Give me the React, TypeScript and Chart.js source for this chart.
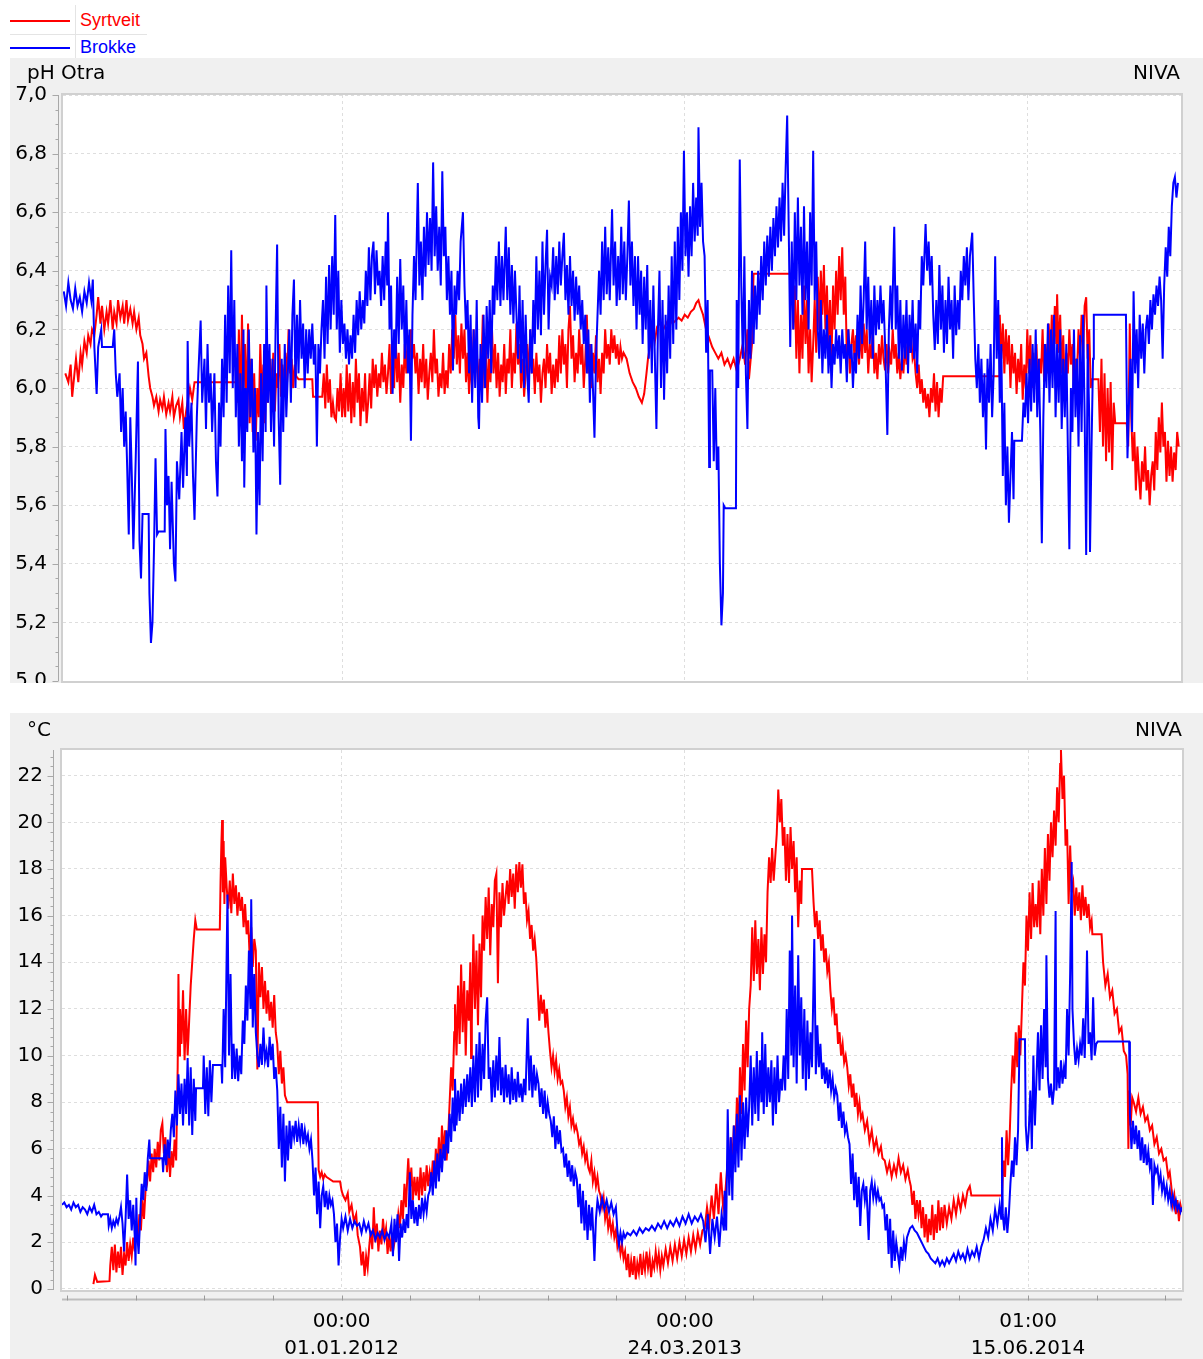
import React, { useEffect, useRef } from 'react';
import { Chart, registerables } from 'chart.js';

Chart.register(...registerables);

type Pair = [number, number];

// ---------------- data (x = days relative to 01.01.2012) ----------------
const seriesNames = ['Syrtveit', 'Brokke'];
const seriesColors = ['#ff0000', '#0000ff'];
const xTickDays = [0, 448, 896.04];
const xTickTimes = ['00:00', '00:00', '01:00'];
const xTickDates = ['01.01.2012', '24.03.2013', '15.06.2014'];
const phTicks = [5.0, 5.2, 5.4, 5.6, 5.8, 6.0, 6.2, 6.4, 6.6, 6.8, 7.0];
const tempTicks = [0, 2, 4, 6, 8, 10, 12, 14, 16, 18, 20, 22];
const phTitle = 'pH Otra';
const tempTitle = '°C';
const sourceLabel = 'NIVA';

const phSyrtveit: Pair[] = [
[-362,6.05],[-358,6.02],[-355,6.08],[-353,5.97],[-350,6.05],[-348,6.1],[-345,6.02],[-342,6.12],[-340,6.08],[-337,6.16],[-334,6.12],[-332,6.18],[-329,6.15],[-327,6.2],[-324,6.18],[-321,6.25],[-319,6.31],[-316,6.22],[-314,6.28],[-311,6.2],[-308,6.26],[-306,6.22],[-303,6.3],[-300,6.2],[-298,6.26],[-295,6.22],[-293,6.3],[-290,6.24],[-287,6.28],[-285,6.22],[-282,6.3],[-280,6.23],[-277,6.27],[-274,6.22],[-272,6.26],[-269,6.2],[-266,6.24],[-264,6.18],[-261,6.15],[-259,6.1],[-256,6.12],[-253,6.04],[-251,6.0],[-248,5.97],[-246,5.94],[-243,5.97],[-240,5.92],[-238,5.96],[-235,5.93],[-233,5.97],[-230,5.91],[-227,5.95],[-225,5.92],[-222,5.97],[-220,5.9],[-217,5.94],[-214,5.96],[-212,5.9],[-209,5.95],[-207,5.86],[-204,5.92],[-201,5.97],[-199,6.0],[-196,5.96],[-193,6.02],[-140,6.02],
[-139,6.1],[-137,5.95],[-135,6.2],[-133,5.9],[-131,6.25],[-129,6.0],[-127,6.15],[-125,5.92],[-123,6.22],[-121,5.88],[-119,6.1],[-117,5.85],[-115,6.05],[-113,5.82],[-111,6.0],[-109,5.9],[-107,6.15],[-105,5.95],[-103,6.08],[-101,5.88],[-99,6.02],[-97,5.95],[-94,6.1],[-92,5.98],[-90,6.12],[-88,5.92],[-86,6.05],[-84,6.0],[-82,6.15],[-80,5.97],[-78,6.08],[-76,6.0],[-74,6.12],[-72,6.02],[-70,6.2],[-68,6.05],[-66,6.1],[-64,6.0],[-62,6.08],[-60,6.04],[-57,6.03],[-39,6.03],[-38,5.97],[-26,5.97],
[-24,6.05],[-22,5.93],[-20,6.08],[-18,5.95],[-16,6.03],[-14,5.9],[-12,5.95],[-10,5.9],[-8,5.89],[-6,6.0],[-4,5.92],[-2,6.05],[0,5.9],[2,6.0],[4,5.9],[6,6.08],[8,5.92],[10,6.05],[12,5.88],[14,6.02],[16,5.9],[18,6.1],[20,5.95],[22,6.05],[24,5.87],[26,6.0],[28,5.92],[30,6.05],[32,5.88],[34,5.95],[36,6.05],[38,5.93],[40,6.1],[42,6.0],[44,6.08],[46,5.97],[48,6.05],[50,6.0],[52,6.12],[54,6.02],[56,6.08],[58,5.98],[60,6.05],
[62,6.15],[64,5.98],[66,6.1],[68,6.0],[70,6.18],[72,6.02],[74,6.12],[76,5.95],[78,6.08],[80,6.0],[82,6.15],[84,6.05],[86,6.18],[88,6.08],[90,6.2],[92,6.1],[94,6.15],[96,6.05],[98,6.12],[100,5.98],[102,6.1],[104,6.02],[106,6.15],[108,6.0],[110,6.1],[112,5.96],[114,6.05],[116,6.12],[118,6.02],[120,6.2],[122,6.05],[124,6.1],[126,5.97],[128,6.05],[130,6.0],[132,6.12],[134,5.98],[136,6.06],[138,6.0],[140,6.15],[142,6.05],[144,6.2],[146,6.1],[148,6.25],[150,6.08],[152,6.18],[154,6.05],[156,6.22],[158,6.1],[160,6.2],[162,6.02],[164,6.12],[166,5.98],
[168,6.1],[170,6.0],[172,6.2],[174,6.05],[176,6.15],[178,5.98],[180,6.1],[182,6.05],[184,6.25],[186,6.0],[188,6.15],[190,5.95],[192,6.1],[194,6.02],[196,6.2],[198,6.05],[200,6.15],[202,6.0],[204,6.12],[206,5.97],[208,6.08],[210,6.02],[212,6.15],[214,5.98],[216,6.1],[218,6.05],[220,6.2],[222,6.0],[224,6.12],[226,6.05],[228,6.22],[230,6.08],[232,6.15],[234,6.0],[236,6.1],[238,5.97],[240,6.05],[242,6.15],[244,6.02],[246,6.2],[248,6.05],[250,6.1],[252,5.98],[254,6.12],[256,6.02],[258,6.08],[260,5.95],[262,6.05],[264,6.1],[266,6.0],[268,6.15],[270,6.05],[272,6.12],[274,5.98],[276,6.08],[278,6.0],[280,6.1],[282,6.02],[284,6.18],
[286,6.05],[288,6.2],[290,6.08],[292,6.15],[294,6.0],[296,6.2],[298,6.28],[300,6.1],[302,6.18],[304,6.02],[306,6.12],[308,6.05],[310,6.2],[312,6.08],[314,6.15],[316,6.0],[318,6.1],[320,6.25],[322,6.05],[324,6.15],[326,6.0],[328,6.12],[330,6.05],[332,6.18],[334,6.02],[336,6.1],[338,5.98],[340,6.12],[342,6.05],[344,6.2],[346,6.1],[348,6.15],[350,6.08],[352,6.2],[354,6.12],[356,6.18],[358,6.1],[360,6.15],[362,6.08],[364,6.14],[366,6.1],
[368,6.12],[372,6.1],[376,6.05],[380,6.02],[384,6.0],[388,5.97],[392,5.95],[395,5.98],[398,6.05],[400,6.1],[403,6.15],[406,6.2],[409,6.16],[412,6.21],[416,6.22],[420,6.2],[424,6.22],[428,6.24],[432,6.22],[436,6.23],[440,6.24],[444,6.23],[448,6.25],[452,6.24],[456,6.26],[460,6.27],[463,6.29],[466,6.3],[468,6.28],[472,6.25],[476,6.2],[480,6.17],[484,6.14],[488,6.12],[492,6.1],[496,6.12],[500,6.08],[504,6.1],[508,6.07],[512,6.1],[516,6.06],[520,6.1],[524,6.15],[527,6.08],[530,6.2],[532,6.03],[536,6.15],[538,6.39],[588,6.39],
[590,6.2],[592,6.35],[594,6.1],[596,6.3],[598,6.05],[600,6.25],[602,6.1],[604,6.35],[606,6.15],[608,6.3],[610,6.05],[612,6.2],[614,6.02],[616,6.15],[618,6.3],[620,6.12],[622,6.38],[624,6.2],[626,6.4],[628,6.25],[630,6.42],[632,6.2],[634,6.35],[636,6.15],[638,6.3],[640,6.1],[642,6.35],[644,6.2],[646,6.4],[648,6.25],[650,6.45],[652,6.3],[654,6.48],[656,6.25],[658,6.38],[660,6.1],[662,6.2],[664,6.05],[666,6.15],[668,6.2],[670,6.1],[672,6.18],
[676,6.08],[678,6.2],[680,6.1],[682,6.22],[684,6.12],[686,6.2],[688,6.05],[690,6.15],[692,6.1],[694,6.2],[696,6.05],[698,6.12],[700,6.03],[702,6.15],[704,6.08],[706,6.18],[708,6.1],[710,6.06],[712,6.15],[714,6.05],[716,6.12],[718,6.08],[720,6.2],[722,6.1],[724,6.15],[726,6.05],[728,6.12],[730,6.03],[732,6.1],[734,6.05],[736,6.15],[738,6.08],[740,6.2],[742,6.12],[744,6.18],[746,6.1],[748,6.12],[750,6.05],
[752,6.0],[754,6.08],[756,5.98],[758,6.03],[760,5.95],[762,6.0],[764,5.93],[766,5.98],[768,5.9],[770,6.0],[772,5.95],[774,6.05],[776,5.92],[778,6.02],[780,5.9],[782,6.0],[784,5.95],[786,6.04],[787,6.04],[859,6.04],
[860,6.25],[862,6.1],[864,6.22],[866,6.05],[868,6.2],[870,6.08],[872,6.18],[874,6.0],[876,6.15],[878,6.05],[880,6.12],[882,5.98],[884,6.1],[886,6.02],[888,6.15],[890,5.96],[892,6.08],[894,6.0],[896,6.2],[898,6.05],[900,6.18],[902,6.0],[904,6.12],[906,6.02],[908,6.15],[910,5.97],[912,6.1],[914,6.05],[916,6.2],[918,6.02],[920,6.15],[922,6.05],[924,6.22],[926,6.08],[928,6.25],[930,6.1],[932,6.28],[934,6.15],[935,6.32],[937,6.12],[939,6.25],[941,6.05],[943,6.18],[945,6.0],[947,6.12],[949,6.05],[951,6.2],[953,6.08],[955,6.15],[957,5.98],[959,6.1],[961,6.05],[963,6.2],[965,6.1],[967,6.25],[969,6.12],[971,6.28],[973,6.31],[975,6.1],[977,6.2],[979,6.0],[980,6.03],[989,6.03],
[991,5.85],[993,6.1],[995,5.8],[997,6.05],[999,5.75],[1001,6.0],[1003,5.78],[1005,6.02],[1007,5.72],[1009,5.95],[1011,5.88],[1026,5.88],[1028,5.8],[1030,6.22],[1032,5.9],[1034,5.75],[1036,5.85],[1038,5.65],[1040,5.8],[1042,5.7],[1044,5.62],[1046,5.75],[1048,5.68],[1050,5.8],[1052,5.65],[1054,5.72],[1056,5.6],[1058,5.7],[1060,5.75],[1062,5.65],[1064,5.85],[1066,5.72],[1068,5.9],[1070,5.78],[1072,5.95],[1074,5.8],[1076,5.85],[1078,5.68],[1080,5.82],[1082,5.7],[1084,5.8],[1086,5.68],[1088,5.78],[1090,5.72],[1092,5.85],[1094,5.8],
];

const phBrokke: Pair[] = [
[-364,6.33],[-361,6.28],[-358,6.36],[-355,6.30],[-352,6.27],[-349,6.34],[-346,6.28],[-343,6.31],[-340,6.26],[-337,6.33],[-334,6.29],[-331,6.36],[-328,6.30],[-326,6.37],[-325,6.25],[-324,6.14],[-321,5.98],[-319,6.14],[-315,6.2],[-314,6.14],[-300,6.14],[-298,6.2],[-296,6.05],[-294,5.97],[-291,6.05],[-289,5.85],[-287,6.0],[-285,5.8],[-283,5.92],[-281,5.72],[-279,5.5],[-277,5.9],[-275,5.7],[-273,5.45],[-270,5.75],[-267,6.09],[-265,5.48],[-263,5.35],[-261,5.57],[-253,5.57],[-252,5.3],[-250,5.13],[-248,5.2],[-246,5.45],[-244,5.76],[-242,5.5],[-240,5.51],[-232,5.51],[-231,5.86],[-229,5.6],[-227,5.7],[-225,5.45],[-223,5.68],[-220,5.4],[-218,5.34],
[-216,5.75],[-213,5.62],[-210,5.85],[-208,5.66],[-205,5.9],[-203,5.7],[-202,6.16],[-200,5.8],[-197,5.95],[-195,5.7],[-193,5.55],[-190,5.9],[-188,6.05],[-185,6.23],[-183,5.95],[-180,6.1],[-178,5.86],[-176,6.15],[-174,5.95],[-172,6.05],[-170,5.85],[-167,6.05],[-165,5.75],[-163,5.63],[-161,5.95],[-159,5.8],[-157,6.1],[-155,5.9],[-153,6.25],[-151,5.95],[-149,6.35],[-147,6.05],[-145,6.47],[-143,6.0],[-141,6.3],[-139,5.9],[-137,6.15],[-135,5.8],[-133,6.05],[-131,5.75],[-129,6.2],[-128,5.66],[-126,6.0],[-124,5.85],[-122,6.2],[-120,5.9],[-118,6.1],[-116,5.78],[-114,6.0],
[-112,5.5],[-110,5.85],[-108,5.6],[-106,6.05],[-104,5.75],[-102,6.15],[-100,5.85],[-99,6.35],[-97,5.95],[-95,6.15],[-93,5.85],[-91,6.1],[-89,5.8],[-87,6.2],[-85,6.49],[-83,5.9],[-81,5.67],[-79,6.1],[-77,5.85],[-75,6.15],[-73,5.9],[-71,6.05],[-69,6.2],[-67,5.95],[-65,6.25],[-63,6.37],[-61,6.0],[-59,6.25],[-57,6.05],[-55,6.3],[-53,6.1],[-51,6.22],[-49,6.0],[-47,6.2],[-45,6.05],[-43,6.2],[-41,6.1],[-39,6.22],[-37,6.08],[-35,6.15],[-33,5.8],[-31,6.15],[-29,6.05],[-27,6.2],[-25,6.3],[-23,6.1],[-21,6.38],[-19,6.15],[-17,6.42],[-15,6.2],[-13,6.45],[-11,6.25],[-9,6.59],[-7,6.2],[-5,6.4],[-3,6.12],[-1,6.3],
[1,6.15],[3,6.22],[5,6.1],[7,6.2],[9,6.08],[11,6.18],[13,6.1],[15,6.25],[17,6.12],[19,6.3],[21,6.18],[23,6.33],[25,6.2],[27,6.3],[29,6.22],[31,6.4],[33,6.28],[35,6.48],[37,6.3],[39,6.45],[41,6.5],[43,6.32],[45,6.47],[47,6.35],[49,6.4],[51,6.28],[53,6.45],[55,6.3],[57,6.5],[59,6.35],[60,6.6],[62,6.2],[64,6.35],[66,5.98],[68,6.2],[70,6.1],[72,6.38],[74,6.15],[76,6.44],[78,6.2],[80,6.35],[82,6.1],[84,6.3],[86,6.05],[88,6.2],[90,5.82],
[92,6.25],[94,6.45],[96,6.3],[99,6.7],[101,6.35],[103,6.5],[105,6.3],[107,6.55],[109,6.38],[111,6.6],[113,6.42],[115,6.58],[117,6.4],[119,6.77],[121,6.45],[123,6.62],[125,6.4],[127,6.55],[129,6.35],[131,6.74],[133,6.45],[135,6.55],[137,6.3],[139,6.45],[141,6.25],[143,6.4],[145,6.06],[147,6.35],[149,6.25],[151,6.4],[153,6.3],[155,6.5],[158,6.6],[160,6.35],
[162,6.2],[164,6.3],[166,6.05],[168,6.25],[170,5.95],[172,6.2],[174,6.0],[176,6.3],[178,5.9],[179,5.86],[181,6.15],[183,5.95],[185,6.25],[187,6.0],[189,6.28],[191,6.1],[193,6.3],[195,6.05],[197,6.35],[199,6.25],[201,6.45],[203,6.3],[205,6.5],[207,6.28],[209,6.45],[211,6.3],[214,6.55],[216,6.3],[218,6.48],[220,6.25],[222,6.42],[224,6.22],[226,6.4],[228,6.25],
[230,6.1],[232,6.35],[234,6.05],[236,6.3],[238,6.0],[240,6.25],[242,6.05],[244,5.95],[246,6.2],[248,6.05],[250,6.3],[252,6.15],[254,6.45],[256,6.2],[258,6.4],[260,6.18],[262,6.5],[264,6.25],[266,6.42],[268,6.54],[270,6.2],[272,6.38],[274,6.35],[276,6.48],[278,6.3],[280,6.45],[282,6.32],[284,6.5],[286,6.35],[288,6.45],[290,6.53],[292,6.3],[294,6.42],[296,6.25],[298,6.45],[300,6.28],[302,6.4],[304,6.23],[306,6.38],[308,6.25],[310,6.35],[312,6.2],[314,6.3],[316,6.15],
[318,6.25],[320,6.05],[322,6.2],[324,5.95],[326,6.15],[328,6.0],[330,5.83],[332,6.1],[334,6.25],[336,6.4],[338,6.25],[340,6.5],[342,6.3],[344,6.55],[346,6.32],[348,6.48],[350,6.3],[353,6.61],[355,6.35],[357,6.5],[359,6.28],[361,6.45],[363,6.3],[365,6.55],[367,6.32],[369,6.5],[371,6.3],[373,6.45],[375,6.64],[377,6.35],[379,6.5],[381,6.28],[383,6.45],
[385,6.2],[387,6.45],[389,6.25],[391,6.4],[393,6.15],[395,6.38],[397,6.2],[399,6.42],[401,6.1],[403,6.3],[405,6.05],[407,6.35],[409,6.1],[411,5.86],[413,6.2],[415,6.4],[417,6.0],[419,6.3],[421,5.96],[423,6.25],[425,6.05],[427,6.35],[429,6.1],[431,6.45],[433,6.15],[435,6.5],[437,6.2],
[439,6.55],[441,6.3],[443,6.6],[445,6.4],[447,6.81],[449,6.45],[451,6.6],[453,6.38],[455,6.62],[457,6.45],[459,6.7],[461,6.5],[463,6.65],[465,6.52],[466,6.89],[468,6.55],[470,6.7],[472,6.5],[474,6.45],[476,6.12],[478,6.3],[480,5.73],[481,6.06],[484,6.06],[486,5.75],[488,6.0],[490,5.72],[492,5.8],[494,5.4],[496,5.19],[498,5.3],[499,5.6],[501,5.59],[515,5.59],[516,6.3],[518,6.0],[520,6.78],
[522,6.35],[524,6.1],[526,6.45],[528,6.05],[530,5.86],[532,6.3],[534,6.1],[536,6.4],[538,6.15],[540,6.35],[542,6.2],[544,6.4],[546,6.25],[548,6.45],[550,6.3],[552,6.5],[554,6.35],[556,6.52],[558,6.38],[560,6.55],[562,6.4],[564,6.58],[566,6.45],[568,6.62],[570,6.48],[572,6.65],[574,6.5],[576,6.7],[578,6.52],[580,6.75],[582,6.93],[584,6.55],[586,6.14],
[588,6.5],[590,6.2],[592,6.6],[594,6.3],[596,6.65],[598,6.35],[600,6.55],[602,6.25],[604,6.62],[606,6.3],[608,6.5],[610,6.2],[612,6.6],[614,6.35],[616,6.81],[618,6.3],[620,6.5],[622,6.2],
[624,6.1],[626,6.3],[628,6.05],[630,6.2],[632,6.1],[634,6.25],[636,6.05],[638,6.18],[640,6.0],[642,6.15],[644,6.08],[646,6.2],[648,6.1],[650,6.18],[652,6.05],[654,6.2],[656,6.1],[658,6.15],[660,6.02],[662,6.2],[664,6.1],[666,6.15],[668,6.0],[670,6.12],[672,6.05],
[674,6.25],[676,6.1],[678,6.35],[680,6.15],[682,6.3],[684,6.5],[686,6.2],[688,6.38],[690,6.15],[692,6.3],[694,6.1],[696,6.35],[698,6.18],[700,6.3],[702,6.2],[704,6.35],[706,6.22],[708,6.3],[710,6.15],[713,5.84],[715,6.2],[717,6.35],[719,6.2],[722,6.55],
[724,6.2],[726,6.35],[728,6.1],[730,6.3],[732,6.06],[734,6.25],[736,6.1],[738,6.3],[740,6.05],[742,6.25],[744,6.12],[746,6.3],[748,6.1],[750,6.22],[752,6.05],[754,6.3],[756,6.2],[758,6.45],[760,6.35],[763,6.56],[765,6.4],[767,6.5],[769,6.35],[771,6.45],[773,6.25],[775,6.13],
[777,6.3],[779,6.15],[781,6.42],[783,6.2],[785,6.35],[787,6.12],[789,6.3],[791,6.15],[793,6.38],[795,6.2],[797,6.3],[799,6.1],[801,6.35],[803,6.18],[805,6.3],[807,6.2],[809,6.4],[811,6.3],[813,6.45],[815,6.35],[817,6.48],[819,6.3],[821,6.45],[824,6.53],[826,6.3],
[828,6.1],[830,6.0],[832,6.15],[834,5.95],[836,6.1],[838,5.9],[840,6.05],[842,5.79],[844,6.1],[846,5.95],[848,6.15],[850,5.9],[852,6.05],[854,6.45],[856,6.1],[858,6.3],[860,5.95],[862,6.15],[864,5.7],[866,5.95],[868,5.6],[870,5.8],[872,5.54],[874,5.7],[876,5.85],[878,5.62],[879,5.82],[889,5.82],[891,5.95],
[893,5.9],[895,6.05],[897,5.88],[899,6.1],[901,5.92],[903,6.15],[905,5.95],[907,6.2],[909,5.9],[911,6.1],[913,5.85],[915,5.47],[917,5.9],[919,6.15],[921,6.0],[923,6.22],[925,5.95],[927,6.2],[929,6.0],[931,6.25],[933,5.9],[935,6.15],[937,5.95],[939,6.2],[941,5.86],[943,6.1],
[945,5.9],[947,6.15],[949,5.8],[951,5.45],[953,6.0],[955,5.85],[957,6.2],[959,5.9],[961,6.1],[963,5.8],[965,6.18],[967,5.85],[969,6.25],[971,5.9],[973,5.43],[975,6.15],[977,5.9],[978,5.44],[980,5.8],[982,6.1],[983,6.25],[1025,6.25],
[1027,5.76],[1029,5.95],[1031,6.1],[1033,5.85],[1035,6.33],[1037,6.05],[1039,6.2],[1041,6.0],[1043,6.25],[1045,6.1],[1047,6.22],[1049,6.05],[1051,6.2],[1053,6.25],[1055,6.15],[1057,6.3],[1059,6.2],[1061,6.32],[1063,6.25],[1065,6.35],[1067,6.28],[1069,6.38],[1071,6.3],[1073,6.1],[1075,6.35],[1077,6.48],[1079,6.38],[1081,6.55],[1083,6.45],[1085,6.62],[1087,6.7],[1089,6.72],[1091,6.65],[1093,6.7],
];

const tempSyrtveit: Pair[] = [
[-324,0.2],[-322,0.6],[-319,0.3],[-303,0.33],[-302,1.0],[-300,1.8],[-298,0.8],[-296,1.9],[-294,0.7],[-292,1.6],[-290,0.9],[-288,1.8],[-286,0.6],[-284,1.5],[-282,1.0],[-280,2.0],[-278,1.2],[-276,1.9],[-274,1.4],[-272,2.2],[-270,1.6],[-268,2.8],[-266,2.0],[-264,3.2],[-262,2.5],[-260,3.8],[-258,3.0],[-256,4.2],
[-254,4.5],[-252,5.5],[-250,4.6],[-248,5.8],[-246,5.0],[-244,6.0],[-242,5.2],[-240,6.3],[-238,5.5],[-236,6.8],[-234,7.1],[-232,5.8],[-230,6.5],[-228,5.0],[-226,6.2],[-224,4.8],[-222,5.9],[-220,5.2],[-218,6.4],[-216,5.5],[-214,9.5],[-213,13.5],[-212,10.0],[-211,12.0],[-209,10.5],[-207,12.8],[-205,9.8],[-203,12.0],[-201,10.0],[-199,11.5],[-197,13.0],[-195,14.0],[-193,15.0],[-191,15.8],[-189,15.4],[-159,15.4],
[-158,17.5],[-157,19.0],[-156,20.1],[-155,17.0],[-154,19.2],[-153,16.5],[-152,18.5],[-150,17.2],[-148,16.3],[-146,17.5],[-144,16.1],[-142,17.8],[-140,16.5],[-138,17.3],[-136,16.0],[-134,17.0],[-132,16.2],[-130,16.8],[-128,15.5],[-126,16.5],[-124,15.2],[-122,15.8],[-120,14.2],[-118,15.5],[-116,13.8],[-114,15.0],[-112,14.5],[-110,9.4],[-108,14.0],[-106,12.5],[-104,13.8],[-102,12.0],[-100,13.2],[-98,11.8],[-96,12.8],[-94,11.5],[-92,12.3],[-90,11.2],[-88,12.6],[-86,11.0],[-84,10.5],[-82,9.2],[-80,10.2],[-78,8.8],[-76,9.5],[-74,8.3],[-71,8.0],[-31,8.0],
[-30,5.1],[-28,4.8],[-26,5.0],[-24,4.7],[-22,4.9],[-20,4.8],[-11,4.6],[-2,4.6],[0,4.2],[2,4.0],[5,3.8],[8,4.1],[10,3.3],[13,3.6],[16,2.9],[19,3.2],[21,2.3],[24,1.8],[26,1.0],[28,1.6],[30,0.55],[32,1.4],[34,0.9],[36,1.8],[38,2.5],[40,1.7],[42,3.5],[44,2.0],[46,2.8],[48,1.6],[50,2.5],[52,1.9],[54,3.0],[56,2.2],[58,2.6],[60,1.5],[62,2.3],[64,1.6],[66,2.4],[68,1.8],[70,2.2],
[72,2.5],[74,3.2],[76,2.6],[78,3.8],[80,3.0],[82,4.5],[84,3.5],[86,5.0],[87,5.6],[89,4.2],[91,5.2],[93,3.8],[95,4.8],[97,4.0],[99,4.8],[101,3.8],[103,5.2],[105,4.0],[107,5.0],[109,4.2],[111,5.3],[113,4.4],[115,5.0],[117,4.5],[119,5.5],[121,4.6],[123,6.0],[125,5.0],[127,6.5],[129,5.2],[131,7.0],[133,5.8],[135,6.8],[137,5.5],[139,6.5],
[141,8.0],[143,9.5],[145,8.5],[147,11.0],[148,12.2],[150,10.0],[152,13.0],[154,10.5],[156,13.9],[158,11.0],[160,13.2],[162,10.0],[164,12.8],[166,11.5],[168,14.0],[169,9.9],[170,11.5],[172,15.2],[174,12.0],[176,14.5],[178,11.3],[180,14.8],[182,12.5],[184,16.0],[186,14.5],[188,16.8],[190,15.0],[192,17.2],[194,14.3],[196,16.5],[198,15.5],[200,17.5],[202,17.8],[204,13.1],[206,17.0],[208,15.5],[210,17.4],[212,16.0],[214,16.8],
[216,17.5],[218,16.5],[220,18.0],[222,16.8],[224,17.8],[226,16.3],[228,18.2],[230,17.0],[232,18.3],[234,17.2],[236,18.2],[238,16.5],[240,17.0],[242,15.8],[244,16.2],[246,15.0],[248,15.6],[250,14.5],[252,15.0],[254,14.2],[256,12.9],[258,11.5],[260,12.6],[262,11.8],[264,12.4],[266,11.2],[268,12.0],[270,11.0],
[272,10.2],[274,9.5],[276,10.0],[278,9.3],[280,9.8],[282,9.0],[284,9.4],[286,8.8],[288,8.9],[290,8.5],[292,7.8],[294,8.2],[296,7.4],[298,7.8],[300,7.0],[302,7.3],[304,6.8],[306,7.0],[308,6.7],[310,6.2],[312,6.4],[314,5.8],[316,6.1],[318,5.5],[320,5.8],[322,5.2],[324,5.0],[326,5.5],[328,4.6],[330,5.0],[332,4.4],[334,4.8],[336,4.2],
[338,4.0],[340,3.5],[342,3.9],[344,3.0],[346,3.4],[348,2.6],[350,3.0],[352,2.4],[354,2.8],[356,2.2],[358,2.5],[360,1.8],[362,2.1],[364,1.5],[366,1.9],[368,1.3],[370,1.6],[372,0.8],[374,1.5],[376,0.5],[378,1.2],[380,0.6],[382,1.4],[384,0.4],[386,1.1],[388,0.7],[390,1.5],[392,0.6],[394,1.3],[396,0.8],[398,1.6],[400,0.9],[402,1.4],[404,0.5],[406,1.2],[408,0.9],[410,1.6],[412,1.0],[414,1.5],[416,0.8],[418,1.4],
[420,1.0],[423,1.7],[426,1.1],[429,1.8],[432,1.2],[435,1.9],[438,1.3],[441,2.0],[444,1.4],[447,2.1],[450,1.5],[453,2.2],[456,1.6],[459,2.3],[462,1.7],[465,2.4],[468,1.9],[471,2.5],[474,2.6],[477,3.5],[480,2.8],[483,4.0],[486,3.0],[489,4.5],[492,3.2],[495,5.0],[498,3.5],[501,4.2],
[504,5.5],[506,4.8],[508,6.5],[510,5.2],[512,7.0],[514,5.8],[516,8.2],[518,6.5],[520,9.5],[522,7.5],[524,10.5],[526,8.5],[528,11.5],[530,9.5],[532,12.0],[534,13.0],[536,15.5],[538,13.2],[540,15.8],[542,13.5],[544,15.0],[546,12.8],[548,15.5],[550,13.5],[552,15.2],[554,14.0],[556,17.0],[558,18.5],[560,17.4],[562,18.9],[564,17.5],[566,18.5],[568,19.5],[570,21.4],[572,20.0],[574,21.0],[576,19.0],[578,19.8],[580,17.5],[582,19.5],[584,17.4],[586,19.8],[588,18.0],[590,19.2],[592,17.0],[594,18.5],[596,15.5],[598,17.5],[600,16.5],[601,18.0],[614,18.0],
[616,16.6],[618,15.5],[620,16.2],[622,15.0],[624,15.8],[626,14.5],[628,15.2],[630,14.0],[632,14.6],[634,13.6],[636,14.0],[638,12.8],[640,12.0],[642,12.5],[644,11.3],[646,11.8],[648,10.5],[650,11.0],[652,10.0],[654,10.5],[656,9.7],[658,10.0],[660,9.5],[662,8.7],[664,9.2],[666,8.2],[668,8.8],[670,7.8],[672,8.4],[674,7.5],[676,8.0],[678,7.3],
[680,7.5],[683,6.8],[686,7.2],[689,6.3],[692,6.8],[695,6.0],[698,6.4],[701,5.8],[704,6.1],[706,5.6],[709,5.5],[712,5.0],[715,5.4],[718,4.8],[721,5.3],[724,4.9],[727,5.6],[730,5.0],[733,5.3],[736,4.7],[739,5.1],[741,4.7],[743,4.4],[745,3.6],[747,4.2],[749,3.0],[751,3.8],[753,3.2],
[755,3.8],[757,2.6],[759,3.5],[761,2.2],[763,3.2],[765,2.0],[767,3.0],[769,2.3],[771,3.6],[773,2.1],[775,3.2],[777,2.4],[779,3.8],[781,2.5],[783,3.5],[785,2.6],[787,3.6],[790,2.8],[793,3.5],[796,3.0],[799,3.8],[802,3.2],[805,3.9],[808,3.4],[811,4.0],[814,3.6],[817,4.2],[820,4.4],[822,4.0],[862,4.0],
[864,5.5],[866,4.8],[868,6.8],[870,5.3],[872,6.5],[874,8.5],[876,10.0],[878,8.8],[880,11.0],[882,9.5],[884,11.3],[886,10.0],[888,12.0],[890,14.0],[892,13.0],[894,16.0],[896,14.5],[898,17.0],[900,15.0],[902,17.4],[904,15.5],[906,16.5],[908,15.5],[910,17.5],[912,15.2],[914,18.0],[916,16.0],[918,18.9],[920,16.5],[922,19.5],[924,17.5],[926,20.0],[928,18.5],[930,20.5],[932,19.0],[934,21.5],[936,20.0],[938,22.5],[939,23.1],[941,21.0],[943,22.0],[945,19.0],[947,19.7],[949,16.5],[951,19.0],[953,17.0],
[955,17.4],[957,16.0],[959,17.2],[961,16.2],[963,17.0],[965,15.8],[967,17.3],[969,16.0],[971,16.8],[973,15.9],[975,16.5],[977,15.5],[979,15.8],[980,15.2],[992,15.2],[994,14.0],[997,13.0],[1000,13.5],[1003,12.5],[1006,12.8],[1009,11.8],[1012,12.0],[1015,11.0],[1018,11.2],[1021,10.2],[1024,10.0],[1026,9.2],[1027,6.0],[1028,8.5],[1030,7.0],[1032,8.2],
[1034,8.0],[1037,7.6],[1040,8.2],[1043,7.5],[1046,7.8],[1049,7.2],[1052,7.4],[1055,6.8],[1058,7.0],[1061,6.2],[1064,6.5],[1067,5.8],[1070,6.0],[1073,5.5],[1076,5.6],[1079,4.8],[1081,5.0],[1083,4.4],[1085,3.6],[1087,4.0],[1089,3.2],[1091,3.8],[1093,2.9],[1095,3.6],[1097,3.3],
];

const tempBrokke: Pair[] = [
[-365,3.6],[-362,3.7],[-359,3.5],[-356,3.6],[-353,3.4],[-350,3.7],[-347,3.5],[-344,3.6],[-341,3.3],[-338,3.5],[-335,3.4],[-332,3.2],[-329,3.5],[-326,3.3],[-323,3.6],[-320,3.2],[-317,3.3],[-314,3.1],[-312,3.2],[-305,3.2],[-304,2.7],[-302,3.0],[-300,2.6],[-298,2.9],[-296,2.7],[-294,3.0],[-292,2.8],[-290,3.1],
[-288,3.5],[-286,2.8],[-284,1.6],[-282,3.0],[-280,4.9],[-278,3.0],[-276,3.8],[-274,2.5],[-272,3.6],[-270,2.2],[-269,1.0],[-268,3.9],[-267,2.5],[-265,1.5],[-263,3.0],[-261,4.5],[-259,3.8],[-257,5.0],[-255,4.2],[-253,5.6],[-251,6.4],[-250,5.6],[-234,5.6],
[-233,5.0],[-231,6.2],[-229,5.3],[-227,6.4],[-225,5.6],[-223,6.8],[-221,7.5],[-219,6.5],[-217,8.5],[-215,7.0],[-213,9.2],[-211,7.5],[-209,8.8],[-207,7.0],[-205,9.0],[-203,7.5],[-201,9.9],[-199,7.0],[-197,9.5],[-195,6.6],[-193,9.0],[-191,7.2],[-190,8.6],[-181,8.6],[-180,10.0],[-178,7.5],[-176,9.5],[-174,7.4],[-172,9.8],[-170,8.0],[-168,9.6],[-157,9.6],
[-156,8.8],[-154,12.0],[-152,9.5],[-150,14.5],[-149,16.9],[-147,10.0],[-145,13.5],[-143,9.0],[-141,10.5],[-139,9.0],[-137,10.3],[-135,8.9],[-133,10.0],[-131,9.2],[-129,11.5],[-127,10.5],[-125,13.0],[-123,11.5],[-121,14.5],[-119,12.0],[-118,16.7],[-116,11.2],[-114,13.5],[-112,11.0],
[-110,10.0],[-108,9.5],[-106,10.5],[-104,9.6],[-102,11.2],[-100,9.8],[-98,10.2],[-96,9.5],[-94,10.8],[-92,9.8],[-90,10.5],[-88,9.0],[-86,9.5],[-84,8.5],[-82,6.0],[-80,7.8],[-78,5.2],[-76,7.5],[-74,4.6],[-72,7.0],[-70,5.5],[-68,7.2],[-66,6.0],[-64,7.0],
[-62,6.5],[-60,7.2],[-58,6.3],[-56,7.0],[-54,6.4],[-52,7.1],[-50,6.2],[-48,6.8],[-46,6.3],[-44,6.6],[-42,6.0],[-40,6.4],[-38,5.5],[-36,4.0],[-34,5.2],[-32,3.2],[-30,4.6],[-28,2.6],[-26,4.0],[-24,4.4],[-22,3.5],[-20,4.2],[-18,3.4],[-16,4.0],[-14,3.6],[-12,3.8],[-10,3.2],[-8,2.0],[-6,2.8],[-4,1.0],[-2,2.2],[0,3.0],
[2,2.6],[5,3.1],[8,2.5],[11,3.0],[14,2.6],[17,2.9],[20,2.7],[23,2.8],[26,2.4],[29,2.9],[32,2.5],[35,2.8],[38,2.3],[41,2.5],[44,2.1],[47,2.4],[50,2.2],[53,2.5],[56,2.1],[59,2.4],[62,2.2],[65,2.8],[67,1.4],[69,3.0],[71,2.0],[73,3.2],[75,1.2],[77,2.8],[79,2.2],[81,3.0],[83,2.4],[85,3.2],[87,2.6],[89,5.0],
[91,3.0],[93,3.8],[95,2.8],[97,3.5],[99,2.7],[101,3.6],[103,3.0],[105,3.9],[107,3.2],[109,3.8],[111,3.3],[113,4.0],[115,4.2],[117,5.0],[119,4.0],[121,5.5],[123,4.3],[125,5.8],[127,4.6],[129,6.0],[131,5.0],[133,6.2],[135,5.5],[137,6.8],[139,5.8],
[141,7.5],[143,6.3],[145,8.2],[147,6.8],[148,9.0],[150,7.0],[152,8.5],[154,7.2],[156,8.8],[158,7.5],[160,9.0],[162,7.8],[164,9.2],[166,8.0],[168,9.5],[170,7.8],[172,10.0],[174,8.0],[176,10.5],[178,8.2],[180,11.0],[182,8.5],[184,10.5],[186,9.0],[188,11.5],[190,12.5],[192,9.0],
[194,9.5],[196,8.0],[198,9.8],[200,8.2],[202,10.0],[204,8.5],[206,10.8],[208,8.3],[210,9.5],[212,8.0],[214,9.6],[216,8.2],[218,9.2],[220,7.9],[222,9.5],[224,8.1],[226,9.0],[228,8.0],[230,9.3],[232,8.2],[234,8.8],[236,8.0],[238,9.0],[240,8.3],[243,11.6],[245,8.5],[247,10.0],[249,8.2],[251,9.6],[253,8.5],[255,9.2],
[257,8.8],[259,7.8],[261,8.6],[263,7.5],[265,8.5],[267,7.3],[269,8.0],[271,7.5],[273,7.2],[275,6.5],[277,7.4],[279,6.0],[281,7.0],[283,6.2],[285,6.8],[287,5.9],[289,6.0],[291,5.2],[293,5.8],[295,4.8],[297,5.5],[299,4.6],[301,5.3],[303,4.4],[305,5.0],
[307,4.7],[309,3.5],[311,4.5],[313,2.8],[315,4.2],[317,2.5],[319,3.8],[321,2.1],[323,3.6],[325,2.5],[327,3.5],[329,2.0],[330,1.2],[332,3.0],[334,3.8],[337,3.3],[340,3.9],[343,3.4],[346,3.8],[349,3.3],[352,3.7],[355,3.2],[358,3.5],[360,2.5],[362,1.9],[364,2.4],[366,2.0],[368,2.4],[370,2.2],
[373,2.4],[377,2.3],[381,2.5],[385,2.3],[389,2.6],[393,2.4],[397,2.6],[401,2.5],[405,2.7],[409,2.5],[413,2.8],[417,2.6],[421,2.9],[425,2.6],[429,2.9],[433,2.7],[437,3.0],[441,2.7],[445,3.1],[449,2.8],[453,3.2],[457,2.8],[461,3.1],[465,2.9],[469,3.2],
[472,2.9],[475,2.0],[478,3.2],[481,1.5],[484,3.0],[487,2.2],[490,3.1],[493,1.8],[496,3.2],[499,2.5],[500,4.2],[502,2.5],[504,7.7],[506,4.0],[508,6.5],[510,3.8],[512,7.0],[514,5.0],[516,7.5],[518,5.2],[520,8.3],[522,5.5],[524,8.0],[526,6.0],[528,8.2],[530,6.5],[532,7.8],
[534,10.0],[536,7.0],[538,9.5],[540,7.5],[542,10.2],[544,7.2],[546,9.8],[548,8.0],[549,11.0],[551,7.5],[553,10.5],[555,7.8],[557,9.5],[559,8.0],[561,9.8],[563,7.0],[565,9.5],[567,7.5],[569,10.0],[571,8.0],[573,9.0],[575,8.5],
[577,10.0],[579,8.5],[581,12.0],[583,9.0],[585,14.5],[587,10.0],[588,16.0],[590,9.5],[592,13.0],[594,8.8],[596,14.3],[598,10.0],[600,12.5],[602,9.0],[604,12.0],[606,8.5],[608,11.5],[610,9.0],[612,11.0],[614,9.5],[617,15.0],[619,9.2],[621,11.3],[623,9.5],[625,10.5],[627,9.0],
[629,9.7],[631,8.8],[633,9.5],[635,8.6],[637,9.4],[639,8.5],[641,9.0],[643,8.2],[645,8.6],[647,8.3],[649,7.2],[651,8.0],[653,6.9],[655,7.6],[657,6.7],[659,7.0],[661,6.5],[663,6.2],[665,4.5],[667,5.8],[669,3.8],[671,5.0],[673,3.5],[675,4.8],[677,2.7],[679,4.2],
[681,4.5],[683,3.8],[685,4.4],[688,2.1],[690,4.2],[692,4.6],[694,3.9],[696,4.4],[698,3.8],[700,4.2],[702,3.8],[704,3.9],[706,3.5],[708,3.6],[710,2.5],[712,3.2],[714,1.5],[716,3.0],[718,0.9],[720,2.5],[722,1.2],[724,2.0],[726,1.5],[728,1.0],[730,1.8],[732,1.2],[734,2.0],[736,1.5],[738,2.2],[740,2.4],
[742,2.6],[745,2.7],[748,2.5],[751,2.4],[754,2.2],[757,2.0],[760,1.8],[763,1.6],[766,1.5],[769,1.3],[772,1.2],[775,1.1],[778,1.3],[781,1.0],[784,1.2],[787,1.0],[790,1.3],[793,1.1],[796,1.3],[799,1.5],[802,1.2],[805,1.6],[808,1.3],[811,1.5],[814,1.2],[817,1.7],[820,1.3],[823,1.6],[826,1.4],[829,1.8],[832,1.3],[835,1.8],
[838,2.1],[841,2.6],[844,2.2],[847,3.0],[850,2.5],[853,3.4],[856,2.8],[859,3.6],[861,3.0],[862,6.5],[863,3.2],[865,2.5],[867,3.5],[869,2.4],[871,3.2],[873,4.5],[875,5.5],[877,4.8],[879,6.5],[881,5.3],[883,6.8],[885,10.7],[892,10.7],
[893,7.0],[895,5.9],[897,6.8],[899,8.5],[901,6.0],[903,10.0],[905,7.0],[907,9.0],[909,11.0],[911,8.5],[913,11.3],[915,9.0],[917,12.0],[919,9.5],[920,14.3],[922,9.0],[924,8.2],[926,8.8],[928,7.9],[930,8.6],[932,16.2],[933,8.5],[935,9.5],[937,8.6],[939,9.8],[941,8.8],[943,9.5],[945,9.0],
[947,12.0],[949,10.0],[951,13.5],[953,18.3],[954,12.0],[956,10.5],[958,9.6],[960,10.3],[962,9.8],[964,10.5],[966,10.0],[968,11.6],[970,9.9],[972,12.5],[973,14.5],[975,10.5],[977,11.0],[979,9.8],[981,12.5],[983,10.0],[985,10.5],[987,10.6],[1028,10.6],
[1029,7.5],[1031,6.0],[1033,7.2],[1035,6.2],[1037,7.0],[1039,6.0],[1041,6.8],[1043,5.5],[1045,6.5],[1047,5.4],[1049,6.2],[1051,5.3],[1053,5.9],[1055,5.2],[1057,5.6],[1059,3.6],[1061,5.3],[1063,5.0],[1065,5.2],[1067,4.5],[1069,4.9],[1071,4.2],[1073,4.6],[1075,4.0],[1077,4.4],[1079,3.8],[1081,4.2],[1083,3.6],[1085,4.0],[1087,3.5],[1089,3.8],[1091,3.4],[1093,3.6],[1095,3.3],[1097,3.5],
];

// ---------------- layout / style ----------------
const X_MIN = -365;
const X_MAX = 1097;
const FONT_FAMILY = '"DejaVu Sans", "Liberation Sans", sans-serif';
const PANEL_BG = '#f0f0f0';

type PanelSpec = {
  data: Pair[][];
  yMin: number;
  yMax: number;
  yTicks: number[];
  yFormat: (v: number) => string;
  minorStep: number;
  majorStep: number;
  axisWidth: number;
  labelPad: number;
  axisGap: number;
  pad: { top: number; right: number; bottom: number; left: number };
  xAxisHeight: number;
  showX: boolean;
  w: number;
  h: number;
};

const phSpec: PanelSpec = {
  data: [phSyrtveit, phBrokke],
  yMin: 5.0,
  yMax: 7.0,
  yTicks: phTicks,
  yFormat: (v) => Number(v).toFixed(1).replace('.', ','),
  minorStep: 0.05,
  majorStep: 0.2,
  axisWidth: 53,
  labelPad: 16,
  axisGap: 5,
  pad: { top: 37, right: 22, bottom: 2, left: 0 },
  xAxisHeight: 0,
  showX: false,
  w: 1193,
  h: 625,
};

const tempSpec: PanelSpec = {
  data: [tempSyrtveit, tempBrokke],
  yMin: -0.05,
  yMax: 23.1,
  yTicks: tempTicks,
  yFormat: (v) => String(Math.round(v)),
  minorStep: 0.4,
  majorStep: 2,
  axisWidth: 52,
  labelPad: 19,
  axisGap: 9,
  pad: { top: 37, right: 21, bottom: 0, left: 0 },
  xAxisHeight: 69,
  showX: true,
  w: 1193,
  h: 646,
};

function decoPlugin(spec: PanelSpec) {
  return {
    id: 'panelDeco',
    beforeDraw(chart: any) {
      const { ctx, chartArea: a } = chart;
      ctx.save();
      ctx.fillStyle = PANEL_BG;
      ctx.fillRect(0, 0, chart.width, chart.height);
      ctx.fillStyle = '#ffffff';
      ctx.fillRect(a.left, a.top, a.right - a.left, a.bottom - a.top);
      ctx.restore();
    },
    afterDraw(chart: any) {
      const { ctx, chartArea: a } = chart;
      const ys = chart.scales.y;
      ctx.save();
      // plot frame
      ctx.strokeStyle = '#d0d0d0';
      ctx.lineWidth = 2;
      ctx.strokeRect(a.left - 1, a.top - 1, a.right - a.left + 2, a.bottom - a.top + 2);
      // y axis line and ticks
      const ax = Math.round(a.left - spec.axisGap) + 0.5;
      ctx.strokeStyle = '#a8a8a8';
      ctx.lineWidth = 1;
      ctx.beginPath();
      ctx.moveTo(ax, a.top);
      ctx.lineTo(ax, a.bottom);
      const k0 = Math.ceil(spec.yMin / spec.minorStep - 1e-6);
      const k1 = Math.floor(spec.yMax / spec.minorStep + 1e-6);
      for (let k = k0; k <= k1; k++) {
        const v = k * spec.minorStep;
        const r = v / spec.majorStep;
        const major = Math.abs(r - Math.round(r)) < 1e-6;
        const py = Math.round(ys.getPixelForValue(v)) + 0.5;
        ctx.moveTo(ax - (major ? 6 : 3), py);
        ctx.lineTo(ax, py);
      }
      ctx.stroke();
      if (spec.showX) {
        const xs = chart.scales.x;
        const ay = Math.round(a.bottom + 9) + 0.5;
        ctx.strokeStyle = '#bdbdbd';
        ctx.lineWidth = 2;
        ctx.beginPath();
        ctx.moveTo(a.left, ay);
        ctx.lineTo(a.right, ay);
        ctx.stroke();
        ctx.strokeStyle = '#9a9a9a';
        ctx.lineWidth = 1;
        const step = (xTickDays[1] - xTickDays[0]) / 5;
        const j0 = Math.ceil(X_MIN / step);
        const j1 = Math.floor(X_MAX / step);
        ctx.beginPath();
        for (let j = j0; j <= j1; j++) {
          const px = Math.round(xs.getPixelForValue(j * step)) + 0.5;
          ctx.moveTo(px, ay - 4);
          ctx.lineTo(px, ay + 1);
        }
        ctx.stroke();
      }
      ctx.restore();
    },
  };
}

function PanelChart({ spec, left, top }: { spec: PanelSpec; left: number; top: number }) {
  const ref = useRef<HTMLCanvasElement | null>(null);
  useEffect(() => {
    const canvas = ref.current;
    if (!canvas) return;
    const font = { family: FONT_FAMILY, size: 20, lineHeight: 1.35 };
    const chart = new Chart(canvas, {
      type: 'line',
      data: {
        datasets: spec.data.map((s, i) => ({
          label: seriesNames[i],
          data: s.map(([x, y]) => ({ x, y })),
          borderColor: seriesColors[i],
          backgroundColor: seriesColors[i],
          borderWidth: 2,
          pointRadius: 0,
          pointHoverRadius: 0,
          tension: 0,
          fill: false,
          order: i === 0 ? 2 : 1,
        })),
      },
      options: {
        animation: false,
        responsive: false,
        maintainAspectRatio: false,
        events: [],
        layout: { padding: spec.pad },
        plugins: {
          legend: { display: false },
          tooltip: { enabled: false },
          title: { display: false },
        },
        scales: {
          x: {
            type: 'linear',
            min: X_MIN,
            max: X_MAX,
            afterBuildTicks: (s: any) => {
              s.ticks = xTickDays.map((v) => ({ value: v }));
            },
            afterFit: (s: any) => {
              s.height = spec.xAxisHeight;
              s.paddingLeft = 0;
              s.paddingRight = 0;
            },
            ticks: {
              display: spec.showX,
              autoSkip: false,
              maxRotation: 0,
              minRotation: 0,
              padding: 18,
              color: '#000000',
              font,
              callback: (_v: any, i: number) => [xTickTimes[i], xTickDates[i]],
            },
            grid: { color: '#dedede', drawTicks: false, lineWidth: 1 },
            border: { display: false, dash: [3, 3] },
          },
          y: {
            type: 'linear',
            min: spec.yMin,
            max: spec.yMax,
            afterBuildTicks: (s: any) => {
              s.ticks = spec.yTicks.map((v) => ({ value: v }));
            },
            afterFit: (s: any) => {
              s.width = spec.axisWidth;
              s.paddingTop = 0;
              s.paddingBottom = 0;
            },
            ticks: {
              autoSkip: false,
              padding: spec.labelPad,
              color: '#000000',
              font,
              callback: (v: any) => spec.yFormat(Number(v)),
            },
            grid: { color: '#dedede', drawTicks: false, lineWidth: 1 },
            border: { display: false, dash: [3, 3] },
          },
        },
      },
      plugins: [decoPlugin(spec)],
    } as any);
    return () => chart.destroy();
  }, [spec]);
  return (
    <canvas
      ref={ref}
      width={spec.w}
      height={spec.h}
      style={{ position: 'absolute', left, top, width: spec.w, height: spec.h }}
    />
  );
}

const textStyle: React.CSSProperties = {
  position: 'absolute',
  font: `20px ${FONT_FAMILY}`,
  lineHeight: '20px',
  color: '#000',
  whiteSpace: 'nowrap',
};

export default function App() {
  const legendRows = [21, 48];
  return (
    <div
      style={{
        position: 'absolute',
        left: 0,
        top: 0,
        width: 1203,
        height: 1359,
        background: '#ffffff',
        overflow: 'hidden',
      }}
    >
      {/* legend */}
      <div style={{ position: 'absolute', left: 75, top: 5, width: 1, height: 53, background: '#e4e4e4' }} />
      <div style={{ position: 'absolute', left: 10, top: 34, width: 137, height: 1, background: '#e4e4e4' }} />
      {seriesNames.map((name, i) => (
        <React.Fragment key={name}>
          <div
            style={{
              position: 'absolute',
              left: 10,
              top: legendRows[i] - 1,
              width: 60,
              height: 2,
              background: seriesColors[i],
            }}
          />
          <div
            style={{
              position: 'absolute',
              left: 80,
              top: legendRows[i] - 11,
              height: 22,
              lineHeight: '22px',
              font: '18px "Liberation Sans", Arial, sans-serif',
              color: seriesColors[i],
              whiteSpace: 'nowrap',
            }}
          >
            {name}
          </div>
        </React.Fragment>
      ))}

      {/* pH panel */}
      <PanelChart spec={phSpec} left={10} top={58} />
      <div style={{ ...textStyle, left: 27, top: 62 }}>{phTitle}</div>
      <div style={{ ...textStyle, right: 23, top: 62 }}>{sourceLabel}</div>

      {/* temperature panel */}
      <PanelChart spec={tempSpec} left={10} top={713} />
      <div style={{ ...textStyle, left: 27, top: 719 }}>{tempTitle}</div>
      <div style={{ ...textStyle, right: 21, top: 719 }}>{sourceLabel}</div>
    </div>
  );
}
